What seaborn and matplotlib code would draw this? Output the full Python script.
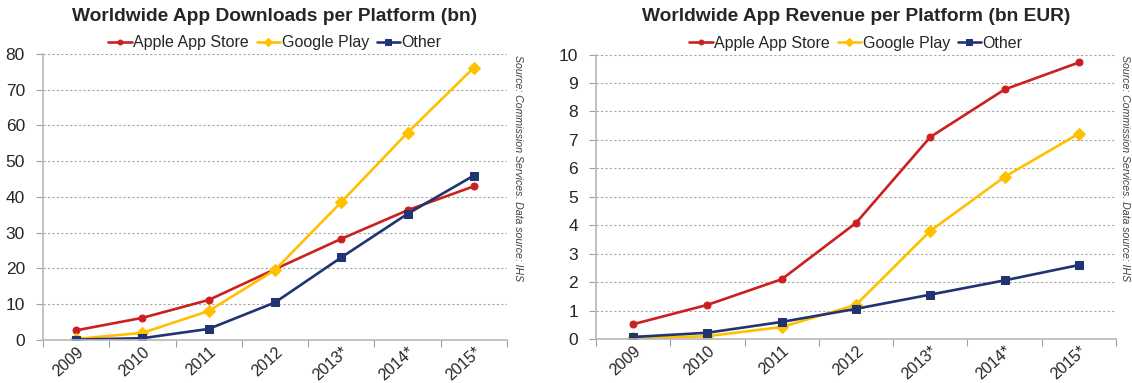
import matplotlib
matplotlib.use("Agg")
import matplotlib.pyplot as plt
import seaborn as sns
import pandas as pd
import numpy as np

years = ["2009", "2010", "2011", "2012", "2013*", "2014*", "2015*"]
series_names = ["Apple App Store", "Google Play", "Other"]

downloads_apple = [2.7, 6.2, 11.2, 19.8, 28.3, 36.3, 43.0]
downloads_google = [0.3, 2.0, 8.1, 19.6, 38.6, 58.0, 76.2]
downloads_other = [0.1, 0.5, 3.1, 10.5, 23.1, 35.3, 46.0]

revenue_apple = [0.52, 1.2, 2.1, 4.08, 7.1, 8.77, 9.72]
revenue_google = [0.02, 0.1, 0.42, 1.2, 3.8, 5.7, 7.22]
revenue_other = [0.07, 0.22, 0.6, 1.06, 1.56, 2.06, 2.6]

sns.set_theme(style="white")
plt.rcParams['font.family'] = ['Liberation Sans', 'DejaVu Sans']

colors = {"Apple App Store": "#CC1F1F", "Google Play": "#FFC000", "Other": "#1F3470"}
markers = {"Apple App Store": "o", "Google Play": "D", "Other": "s"}
msizes = {"Apple App Store": 5, "Google Play": 6.5, "Other": 6}


def make_df(a, g, o):
    rows = []
    for name, vals in zip(series_names, [a, g, o]):
        for i, v in enumerate(vals):
            rows.append({"pos": i, "year": years[i], "series": name, "value": v})
    return pd.DataFrame(rows)


fig = plt.figure(figsize=(11.32, 3.83), dpi=100)
ax1 = fig.add_axes([0.0380, 0.1123, 0.4099, 0.7467])
ax2 = fig.add_axes([0.5265, 0.1149, 0.4594, 0.7428])

panels = [
    (ax1, make_df(downloads_apple, downloads_google, downloads_other),
     "Worldwide App Downloads per Platform (bn)", 80, 10, 518),
    (ax2, make_df(revenue_apple, revenue_google, revenue_other),
     "Worldwide App Revenue per Platform (bn EUR)", 10, 1, 1125),
]

for ax, df, title, ymax, ystep, src_x in panels:
    for name in series_names:
        sub = df[df.series == name]
        sns.lineplot(data=sub, x="pos", y="value", ax=ax, color=colors[name],
                     marker=markers[name], markersize=msizes[name],
                     markeredgecolor=colors[name], linewidth=1.9, label=name)
    ax.set_xlim(-0.5, 6.5)
    ax.set_ylim(0, ymax)
    ax.set_yticks(np.arange(0, ymax + ystep / 2, ystep))
    ax.set_xticks(np.arange(-0.5, 7, 1))
    ax.set_xticklabels([])
    ax.set_xticks(range(7), minor=True)
    ax.set_xticklabels(years, minor=True, rotation=42, ha="right",
                       rotation_mode="anchor", fontsize=11.5)
    ax.tick_params(axis="x", which="minor", length=0, pad=3)
    ax.tick_params(axis="x", which="major", length=5, width=0.8,
                   color="#A0A0A0", direction="out", bottom=True)
    ax.tick_params(axis="y", labelsize=12.5, length=5, width=0.8,
                   color="#A0A0A0", direction="out", left=True, pad=8)
    ax.set_xlabel("")
    ax.set_ylabel("")
    ax.yaxis.grid(True, linestyle=(0, (2, 2)), color="#A6A6A6", linewidth=0.8)
    ax.xaxis.grid(False)
    for s in ["top", "right"]:
        ax.spines[s].set_visible(False)
    for s in ["left", "bottom"]:
        ax.spines[s].set_color("#B8B8B8")
        ax.spines[s].set_linewidth(1.2)
    ax.set_title(title, fontsize=13.8, fontweight="bold", pad=24)
    ax.legend(loc="lower center", bbox_to_anchor=(0.5, 0.99), ncol=3,
              frameon=False, fontsize=11.5, handlelength=1.45,
              markerscale=0.7, handletextpad=0.1, columnspacing=0.5,
              borderaxespad=0)
    fig.text(src_x / 1132, 1 - 55 / 383,
             "Source: Commission Services. Data source: IHS",
             rotation=-90, va="top", ha="center", fontsize=7.6,
             style="italic", color="#404040")

fig.savefig("out.png", dpi=100)
